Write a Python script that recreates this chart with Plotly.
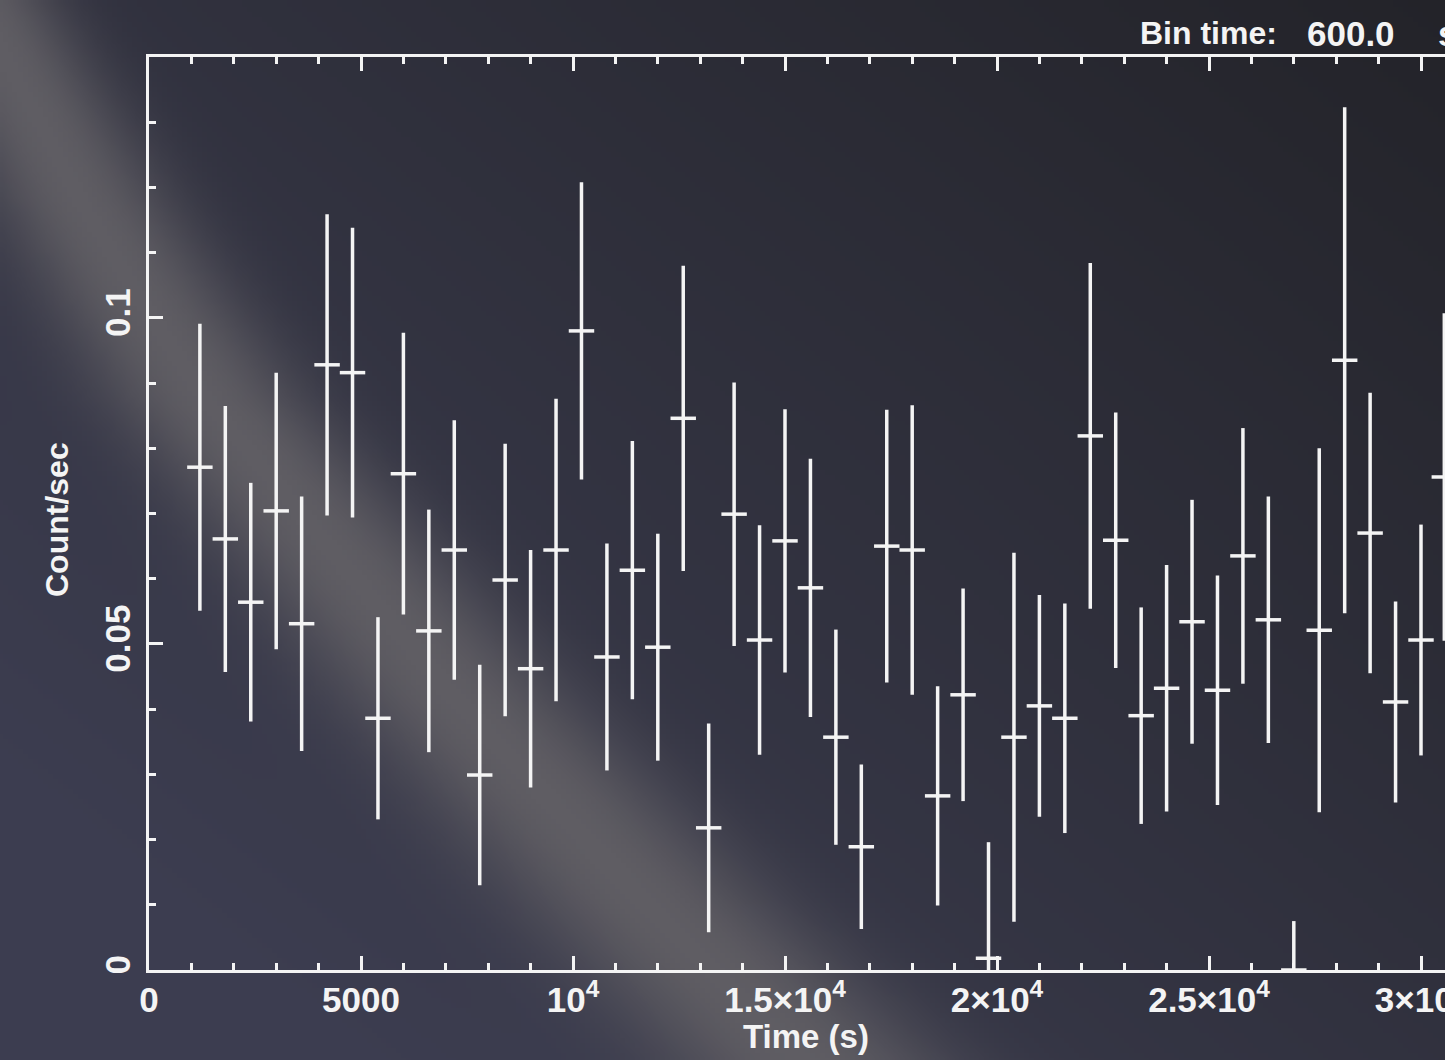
import base64
import math
import struct
import zlib

import plotly.graph_objects as go

# ---------------- data ----------------
time_s = [1200, 1800, 2400, 3000, 3600, 4200, 4800, 5400, 6000, 6600,
          7200, 7800, 8400, 9000, 9600, 10200, 10800, 11400, 12000, 12600,
          13200, 13800, 14400, 15000, 15600, 16200, 16800, 17400, 18000, 18600,
          19200, 19800, 20400, 21000, 21600, 22200, 22800, 23400, 24000, 24600,
          25200, 25800, 26400, 27000, 27600, 28200, 28800, 29400, 30000, 30550]
rate = [0.0771, 0.0661, 0.0564, 0.0704, 0.0531, 0.0928, 0.0916, 0.0386, 0.0761, 0.0520,
        0.0644, 0.0299, 0.0598, 0.0462, 0.0644, 0.0980, 0.0480, 0.0613, 0.0495, 0.0846,
        0.0218, 0.0699, 0.0506, 0.0658, 0.0586, 0.0357, 0.0189, 0.0650, 0.0644, 0.0267,
        0.0422, 0.0018, 0.0357, 0.0405, 0.0386, 0.0819, 0.0659, 0.0390, 0.0432, 0.0534,
        0.0429, 0.0635, 0.0537, 0.0000, 0.0521, 0.0935, 0.0670, 0.0411, 0.0506, 0.0756]
err = [0.0220, 0.0204, 0.0183, 0.0212, 0.0195, 0.0231, 0.0222, 0.0155, 0.0216, 0.0186,
       0.0199, 0.0169, 0.0209, 0.0182, 0.0232, 0.0228, 0.0174, 0.0198, 0.0174, 0.0234,
       0.0160, 0.0202, 0.0176, 0.0202, 0.0198, 0.0165, 0.0126, 0.0209, 0.0222, 0.0168,
       0.0163, 0.0178, 0.0283, 0.0170, 0.0176, 0.0265, 0.0196, 0.0166, 0.0189, 0.0187,
       0.0176, 0.0196, 0.0189, 0.0075, 0.0279, 0.0388, 0.0215, 0.0154, 0.0177, 0.0251]
bin_time = 600.0

x_tickvals = [0, 5000, 10000, 15000, 20000, 25000, 30000]
x_ticktext = ["0", "5000", "10<sup>4</sup>", "1.5×10<sup>4</sup>", "2×10<sup>4</sup>",
              "2.5×10<sup>4</sup>", "3×10<sup>4</sup>"]
y_tickvals = [0, 0.05, 0.1]
y_ticktext = ["0", "0.05", "0.1"]

# ---------------- figure geometry ----------------
W, H = 1445, 1060
PX_L, PX_R, PX_T, PX_B = 149, 1445, 57, 970
X_RANGE = [0, 30566]
Y_RANGE = [0, 0.14]

FONT = "Liberation Sans, Arial, Helvetica, sans-serif"
WHITE = "#f4f4f4"


# ---------------- background (dark gradient with a soft diagonal light band) ----------------
def _png(w, h, raw):
    def chunk(tag, data):
        return (struct.pack(">I", len(data)) + tag + data
                + struct.pack(">I", zlib.crc32(tag + data) & 0xFFFFFFFF))
    return (b"\x89PNG\r\n\x1a\n"
            + chunk(b"IHDR", struct.pack(">IIBBBBB", w, h, 8, 2, 0, 0, 0))
            + chunk(b"IDAT", zlib.compress(raw, 9))
            + chunk(b"IEND", b""))


band_path = [(-200, -130), (0, -25), (200, 80), (300, 140), (400, 205),
             (700, 455), (900, 640), (1060, 800), (1300, 1030)]


def band_center(y):
    for (y0, x0), (y1, x1) in zip(band_path[:-1], band_path[1:]):
        if y0 <= y <= y1:
            return x0 + (x1 - x0) * (y - y0) / (y1 - y0)
    return band_path[-1][1]


def background_uri(scale=5):
    w, h = W // scale + 1, H // scale + 1
    c_left = (60, 61, 80)
    c_dark = (35, 35, 41)
    c_band = (95, 93, 99)
    raw = bytearray()
    for j in range(h):
        y = (j + 0.5) * scale
        xc = band_center(y)
        bw = 80 + 0.06 * y
        raw.append(0)
        for i in range(w):
            x = (i + 0.5) * scale
            t = 0.6 * x / W + 0.55 * (1 - y / H) - 0.15
            t = min(max(t, 0.0), 1.0)
            base = [c_left[k] + (c_dark[k] - c_left[k]) * t for k in range(3)]
            a = math.exp(-abs((x - xc) / bw) ** 2.2)
            col = [base[k] * (1 - a) + c_band[k] * a for k in range(3)]
            raw.extend(int(round(v)) for v in col)
    return "data:image/png;base64," + base64.b64encode(_png(w, h, bytes(raw))).decode()


# ---------------- traces ----------------
err_minus = [min(e, r) for r, e in zip(rate, err)]

fig = go.Figure()
fig.add_trace(go.Scatter(
    x=time_s, y=rate, mode="markers",
    marker=dict(size=1, color="rgba(0,0,0,0)"),
    error_x=dict(type="constant", value=bin_time / 2, color=WHITE, thickness=3.5, width=0),
    error_y=dict(type="data", array=err, arrayminus=err_minus, symmetric=False,
                 color=WHITE, thickness=3.5, width=0),
    hoverinfo="skip", showlegend=False,
))


def px(x):
    return x / W


def py(y):
    return 1 - y / H


axis_common = dict(
    showline=True, linecolor=WHITE, linewidth=3,
    ticks="inside", tickcolor=WHITE, tickwidth=3, ticklen=14,
    showgrid=False, zeroline=False, automargin=False,
    ticklabeloverflow="allow",
    tickfont=dict(family=FONT, size=35, color=WHITE, weight="bold"),
)

fig.update_layout(
    width=W, height=H,
    margin=dict(l=0, r=0, t=0, b=0, pad=0, autoexpand=False),
    paper_bgcolor="#3a3b4c",
    plot_bgcolor="rgba(0,0,0,0)",
    showlegend=False,
    xaxis=dict(
        domain=[px(PX_L), px(PX_R)], range=X_RANGE,
        tickmode="array", tickvals=x_tickvals, ticktext=x_ticktext,
        mirror="ticks",
        minor=dict(ticks="inside", dtick=1000, tick0=0, ticklen=7, tickwidth=3, tickcolor=WHITE),
        ticklabelstandoff=-3,
        **axis_common,
    ),
    yaxis=dict(
        domain=[py(PX_B), py(PX_T)], range=Y_RANGE,
        tickmode="array", tickvals=y_tickvals, ticktext=y_ticktext,
        tickangle=-90, mirror=False,
        minor=dict(ticks="inside", dtick=0.01, tick0=0, ticklen=7, tickwidth=3, tickcolor=WHITE),
        ticklabelstandoff=2,
        **axis_common,
    ),
    images=[dict(source=background_uri(), xref="paper", yref="paper",
                 x=0, y=1, sizex=1, sizey=1, xanchor="left", yanchor="top",
                 sizing="stretch", layer="below")],
)

annotations = [
    dict(text="Time (s)", x=px(806), y=py(1036), xanchor="center", yanchor="middle", size=33),
    dict(text="Count/sec", x=px(57), y=py(520), xanchor="center", yanchor="middle",
         textangle=-90, size=32),
    dict(text="Bin time:", x=px(1138), y=py(33), xanchor="left", yanchor="middle", size=32),
    dict(text="600.0", x=px(1305), y=py(33), xanchor="left", yanchor="middle", size=35),
    dict(text="s", x=px(1436), y=py(33), xanchor="left", yanchor="middle", size=35),
]
for a in annotations:
    size = a.pop("size")
    fig.add_annotation(xref="paper", yref="paper", showarrow=False,
                       font=dict(family=FONT, size=size, color=WHITE, weight="bold"), **a)

fig.write_html(
    "out.html",
    config={"displayModeBar": False, "staticPlot": True},
    post_script="document.body.style.margin='0';document.body.style.overflow='hidden';",
)
